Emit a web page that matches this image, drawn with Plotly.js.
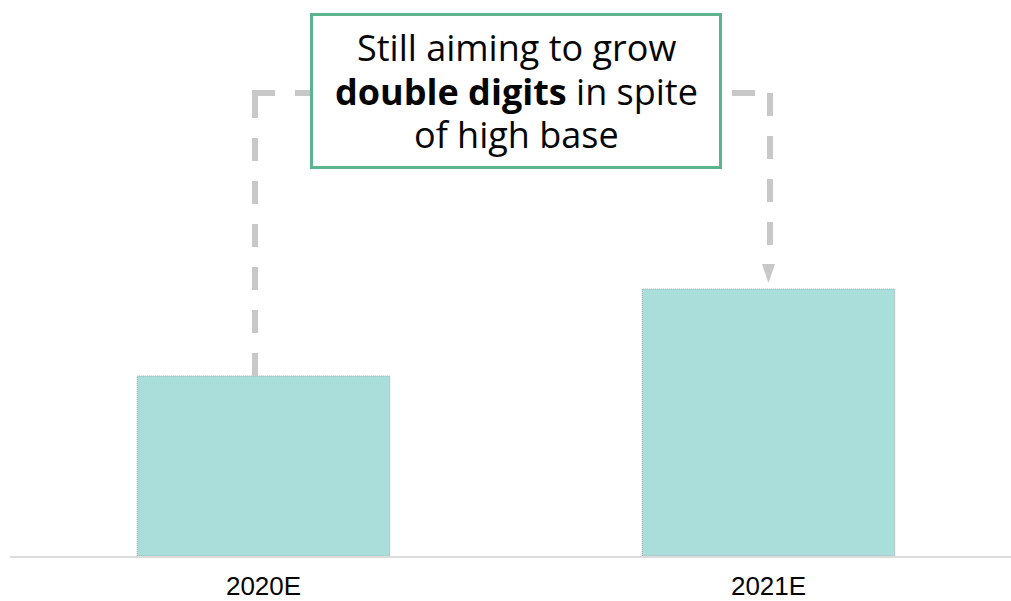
<!DOCTYPE html>
<html>
<head>
<meta charset="utf-8">
<script src="https://cdn.plot.ly/plotly-3.0.1.min.js"></script>
<style>html,body{margin:0;padding:0;background:#fff;}#chart{width:1011px;height:601px;}</style>
</head>
<body>
<div id="chart"></div>
<script>
// ---- data ----
const categories = ["2020E", "2021E"];
const values = [18.0, 26.7];
const calloutLines = ["Still aiming to grow", "<b>double digits</b> in spite", "of high base"];

// ---- style / layout constants ----
const barColor = "#aadedb";
const barEdge = "#a3a3a3";
const connColor = "#c8c8c8";
const boxColor = "#5bb38f";
const W = 1011, H = 601;
const mL = 10, mB = 45, mT = 0, mR = 0;
const pxPerX = 505;            // pixels per category step
const xr0 = -0.502;
const xr1 = xr0 + (W - mL - mR) / pxPerX;
const yMax = 55.6;
const pxPerY = (H - mT - mB) / yMax;
const barW = 0.5;

const idx = categories.map((c, i) => i);
const px2x = p => p / pxPerX;
const px2y = p => p / pxPerY;

// callout geometry (relative to the data)
const maxVal = Math.max(...values);
const bracketY = maxVal + px2y(196);          // horizontal level of the bracket
const boxX = 0.5 * (idx[0] + idx[1]);
const boxCY = maxVal + px2y(198);
const boxHalfW = px2x(204.5), boxHalfH = px2y(76.5);
const lineStep = px2y(43.5);
const leftX = idx[0] - px2x(8.5);
const rightX = idx[1] + px2x(1.5);
const triTip = values[1] + px2y(6);
const triTop = values[1] + px2y(25);
const triHalf = px2x(6.5);

const traces = [];
traces.push({
  type: "bar", x: idx, y: values, width: barW,
  marker: {color: barColor, line: {width: 0}},
  hoverinfo: "skip", showlegend: false
});
// dotted bar outlines
idx.forEach((i, k) => {
  traces.push({
    type: "scatter", mode: "lines",
    x: [i - barW / 2, i - barW / 2, i + barW / 2, i + barW / 2, i - barW / 2],
    y: [0, values[k], values[k], 0, 0],
    line: {color: barEdge, width: 1, dash: "1px,1px"},
    hoverinfo: "skip", showlegend: false
  });
});
const dashLine = {color: connColor, width: 6, dash: "23px,20px"};
// left connector: vertical from bar top, then horizontal toward the box
traces.push({type: "scatter", mode: "lines", x: [leftX, leftX], y: [values[0], bracketY],
  line: dashLine, hoverinfo: "skip", showlegend: false});
traces.push({type: "scatter", mode: "lines", x: [leftX - px2x(3), boxX], y: [bracketY, bracketY],
  line: dashLine, hoverinfo: "skip", showlegend: false});
// right connector
traces.push({type: "scatter", mode: "lines", x: [rightX - px2x(81), rightX + px2x(3)], y: [bracketY, bracketY],
  line: dashLine, hoverinfo: "skip", showlegend: false});
traces.push({type: "scatter", mode: "lines", x: [rightX, rightX], y: [bracketY, triTop + px2y(12)],
  line: dashLine, hoverinfo: "skip", showlegend: false});
// arrow head
traces.push({type: "scatter", mode: "lines", fill: "toself",
  x: [idx[1] - triHalf, idx[1] + triHalf, idx[1], idx[1] - triHalf],
  y: [triTop, triTop, triTip, triTop],
  fillcolor: connColor, line: {width: 0, color: connColor},
  hoverinfo: "skip", showlegend: false});

const annotations = calloutLines.map((t, k) => ({
  x: boxX, y: boxCY + lineStep * (1 - k), xref: "x", yref: "y",
  yanchor: "middle", xanchor: "center", showarrow: false, text: t,
  font: {family: "Open Sans, Noto Sans, sans-serif", size: 36, color: "#050505"}
}));

const layout = {
  width: W, height: H,
  margin: {l: mL, r: mR, t: mT, b: mB, pad: 0},
  paper_bgcolor: "#fff", plot_bgcolor: "#fff",
  showlegend: false,
  xaxis: {
    range: [xr0, xr1], tickvals: idx, ticktext: categories,
    showgrid: false, zeroline: false, showline: true,
    linecolor: "#dcdcdc", linewidth: 2, ticks: "",
    tickfont: {family: "Liberation Sans, Arial, sans-serif", size: 26, color: "#050505"},
    ticklabelstandoff: 6, fixedrange: true
  },
  yaxis: {range: [0, yMax], visible: false, fixedrange: true},
  shapes: [{
    type: "rect", xref: "x", yref: "y", layer: "above",
    x0: boxX - boxHalfW, x1: boxX + boxHalfW,
    y0: boxCY - boxHalfH, y1: boxCY + boxHalfH,
    fillcolor: "#fff", line: {color: boxColor, width: 3}
  }],
  annotations: annotations
};

Plotly.newPlot("chart", traces, layout, {displayModeBar: false, staticPlot: true});
</script>
</body>
</html>
